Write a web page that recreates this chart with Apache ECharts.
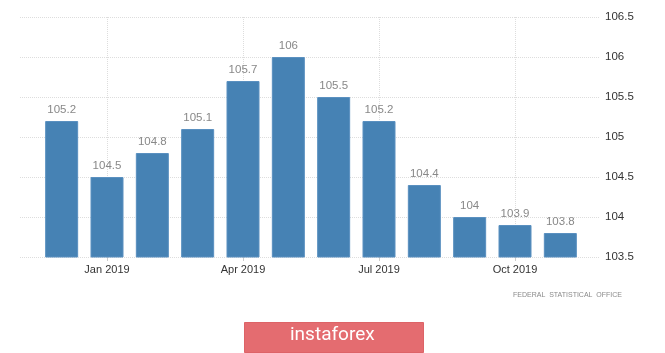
<!DOCTYPE html>
<html>
<head>
<meta charset="utf-8">
<script src="https://cdn.jsdelivr.net/npm/echarts@6/dist/echarts.min.js"></script>
<style>
  html, body { margin: 0; padding: 0; background: #fff; }
  #chart { width: 665px; height: 353px; }
</style>
</head>
<body>
<div id="chart"></div>
<script>
// months Dec 2018 .. Nov 2019
var months = ['Dec 2018', 'Jan 2019', 'Feb 2019', 'Mar 2019', 'Apr 2019', 'May 2019',
              'Jun 2019', 'Jul 2019', 'Aug 2019', 'Sep 2019', 'Oct 2019', 'Nov 2019'];
var values = [105.2, 104.5, 104.8, 105.1, 105.7, 106, 105.5, 105.2, 104.4, 104, 103.9, 103.8];
var yTicks = [103.5, 104, 104.5, 105, 105.5, 106, 106.5];

var chart = echarts.init(document.getElementById('chart'));

// only quarter months get a label / tick / gridline
function showQuarter(i) { return i % 3 === 1; }

var option = {
    animation: false,
    grid: [
        // wide grid: horizontal gridlines + right axis
        { left: 20, right: 65, top: 17, bottom: 96 },
        // bar grid
        { left: 39, right: 82, top: 17, bottom: 96 }
    ],
    xAxis: [
        { gridIndex: 0, type: 'value', show: false, min: 0, max: 1 },
        {
            gridIndex: 1,
            type: 'category',
            data: months,
            axisLine: { show: false },
            axisTick: {
                show: true, alignWithLabel: true, interval: showQuarter,
                length: 4, lineStyle: { color: '#ccc' }
            },
            axisLabel: {
                interval: showQuarter,
                color: '#333',
                fontSize: 11,
                fontFamily: 'Liberation Sans, Arial',
                margin: 7
            },
            splitLine: {
                show: true, alignWithLabel: true, interval: showQuarter,
                lineStyle: { color: '#ddd', type: 'dotted' }
            }
        }
    ],
    yAxis: [
        {
            gridIndex: 0,
            type: 'value',
            position: 'right',
            min: yTicks[0],
            max: yTicks[yTicks.length - 1],
            interval: 0.5,
            axisLine: { show: false },
            axisTick: { show: false },
            axisLabel: {
                color: '#333',
                fontSize: 11.5,
                fontFamily: 'Liberation Sans, Arial',
                margin: 5
            },
            splitLine: { lineStyle: { color: '#ddd', type: 'dotted' } }
        },
        {
            gridIndex: 1,
            type: 'value',
            show: false,
            min: yTicks[0],
            max: yTicks[yTicks.length - 1]
        }
    ],
    series: [{
        type: 'bar',
        xAxisIndex: 1,
        yAxisIndex: 1,
        data: values,
        barWidth: 33,
        itemStyle: { color: '#4682b4', borderColor: '#5a90c0', borderWidth: 1 },
        label: {
            show: true,
            position: 'top',
            distance: 5,
            color: '#888',
            fontSize: 11.5,
            fontFamily: 'Liberation Sans, Arial'
        }
    }],
    graphic: [
        {
            type: 'text',
            left: 513,
            top: 292,
            style: {
                text: 'FEDERAL  STATISTICAL  OFFICE',
                fill: '#8a8a8a',
                font: '7px "Liberation Sans", Arial'
            }
        },
        {
            type: 'rect',
            left: 244,
            top: 322,
            shape: { width: 179, height: 30 },
            style: { fill: '#e46c70', stroke: '#dd6367', lineWidth: 1 }
        },
        {
            type: 'text',
            left: 290,
            top: 326,
            style: {
                text: 'instaforex',
                fill: '#fff',
                font: '19px "Liberation Sans Narrow", "Roboto", sans-serif'
            }
        }
    ]
};

chart.setOption(option);
</script>
</body>
</html>
